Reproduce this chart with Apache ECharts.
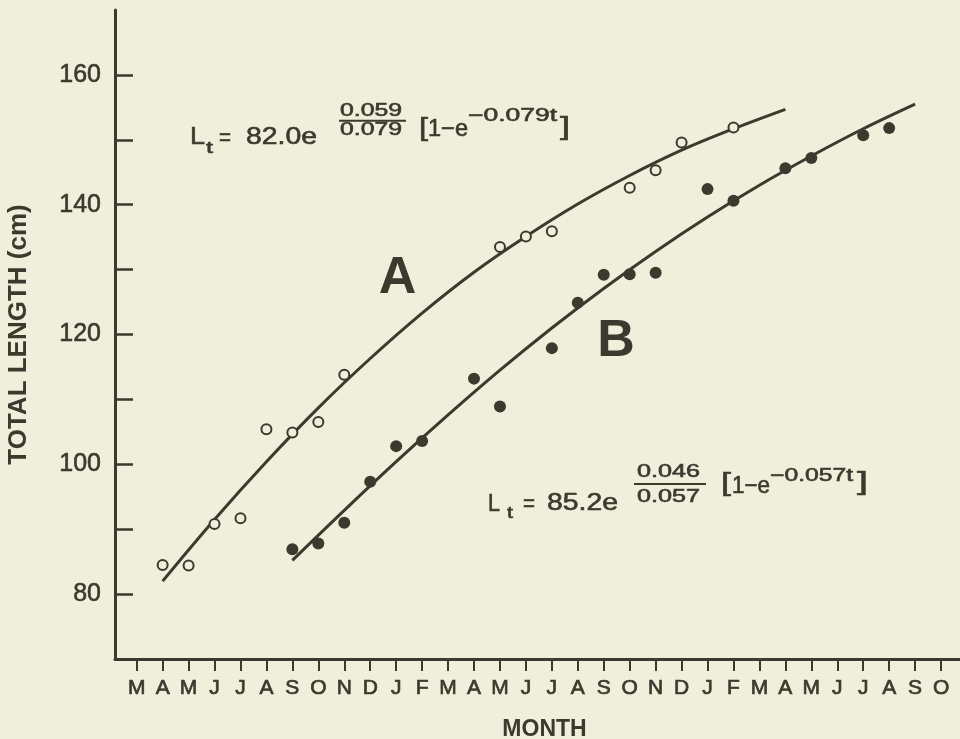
<!DOCTYPE html>
<html>
<head>
<meta charset="utf-8">
<script src="https://cdn.jsdelivr.net/npm/echarts@6/dist/echarts.min.js"></script>
<style>
  html, body { margin: 0; padding: 0; background: #efefdb; }
  #chart { width: 960px; height: 739px; }
</style>
</head>
<body>
<div id="chart"></div>
<script>
// ---- data ----
const monthLetters = ['M','A','M','J','J','A','S','O','N','D','J','F','M','A','M','J','J','A','S','O','N','D','J','F','M','A','M','J','J','A','S','O'];
const monthTicks = monthLetters.map((_, i) => i);
const yTicks = [80, 90, 100, 110, 120, 130, 140, 150, 160];
const yTickLabels = [80, 100, 120, 140, 160];

// Group A (open circles)
const openMonths = [1, 2, 3, 4, 5, 6, 7, 8, 14, 15, 16, 19, 20, 21, 23];
const openLength = [84.5, 84.4, 90.8, 91.7, 105.4, 104.9, 106.5, 113.8, 133.5, 135.1, 135.9, 142.6, 145.3, 149.6, 151.9];

// Group B (filled circles)
const filledMonths = [6, 7, 8, 9, 10, 11, 13, 14, 16, 17, 18, 19, 20, 22, 23, 25, 26, 28, 29];
const filledLength = [86.9, 87.8, 91.0, 97.3, 102.8, 103.6, 113.2, 108.9, 117.9, 124.9, 129.2, 129.3, 129.5, 142.4, 140.6, 145.6, 147.2, 150.7, 151.8];

// Fitted curves
const curveAMonths = [1, 3, 5, 7, 9, 11, 13, 15, 17, 19, 21, 23, 25];
const curveALength = [82.0, 91.5, 100.4, 108.7, 116.3, 123.3, 129.6, 135.1, 140.1, 144.5, 148.4, 151.7, 154.7];
const curveBMonths = [6, 8, 10, 12, 14, 16, 18, 20, 22, 24, 26, 28, 30];
const curveBLength = [85.2, 92.9, 100.4, 107.6, 114.5, 121.0, 127.1, 132.8, 138.1, 143.0, 147.5, 151.7, 155.5];

// ---- styling ----
const INK = '#3a3a2f';
const BG = '#efefdb';
const FONT = '"Liberation Sans", Arial, Helvetica, sans-serif';

const zip = (xs, ys) => xs.map((x, i) => [x, ys[i]]);

const mctx = document.createElement('canvas').getContext('2d');
function piece(str, x0, x1, yc, size, weight) {
  const font = (weight || 'normal') + ' ' + size + 'px ' + FONT;
  mctx.font = font;
  const w = mctx.measureText(str).width || 1;
  let sx = (x1 - x0) / w;
  sx = Math.max(0.8, Math.min(1.6, sx));
  return {
    type: 'text', x: x0, y: yc, scaleX: sx, z: 100,
    style: { text: str, font: font, fill: INK, stroke: INK, lineWidth: 0.6, align: 'left', verticalAlign: 'middle' }
  };
}
function bar(x0, x1, y) {
  return { type: 'line', z: 100, shape: { x1: x0, y1: y, x2: x1, y2: y }, style: { stroke: INK, lineWidth: 2 } };
}
function bigLabel(str, cx, cy) {
  return {
    type: 'text', x: cx, y: cy, z: 100,
    style: { text: str, font: 'bold 52px ' + FONT, fill: INK, align: 'center', verticalAlign: 'middle' }
  };
}

const graphics = [
  // Equation A
  piece('L', 190, 205, 137.5, 24),
  piece('t', 206, 213, 148, 17),
  piece('=', 219, 231, 138, 24),
  piece('82.0e', 246, 317, 137.5, 24),
  piece('0.059', 340, 402, 111, 18),
  bar(339, 406, 120.7),
  piece('0.079', 340, 402, 130, 18),
  piece('[', 419, 428, 128.5, 26),
  piece('1\u2212e', 428, 468, 130, 23),
  piece('\u22120.079t', 468, 557, 116, 18),
  piece(']', 560, 570, 127.5, 26),
  // Equation B
  piece('L', 488, 500, 504, 24),
  piece('t', 507, 513, 513, 17),
  piece('=', 523, 535, 504, 24),
  piece('85.2e', 547, 618, 503.5, 24),
  piece('0.046', 637, 700, 472.5, 18),
  bar(634, 706, 484),
  piece('0.057', 637, 700, 497, 18),
  piece('[', 721, 731, 484, 26),
  piece('1\u2212e', 732, 770, 487, 23),
  piece('\u22120.057t', 770, 853, 476, 18),
  piece(']', 857, 868, 483, 26),
  // Curve labels
  bigLabel('A', 397.5, 279),
  bigLabel('B', 616, 341.5)
];

const chart = echarts.init(document.getElementById('chart'), null, { renderer: 'canvas' });
chart.setOption({
  backgroundColor: BG,
  animation: false,
  grid: { left: 115, right: 0, top: 10, bottom: 80, containLabel: false, outerBoundsMode: 'none' },
  xAxis: {
    type: 'value',
    min: -0.836,
    max: 31.73,
    name: 'MONTH',
    nameLocation: 'middle',
    nameGap: 59,
    nameTextStyle: { color: INK, fontFamily: FONT, fontWeight: 'bold', fontSize: 23, padding: [0, 0, 0, 14] },
    axisLine: { show: true, onZero: false, lineStyle: { color: INK, width: 3 } },
    axisTick: { show: true, inside: false, length: 12, customValues: monthTicks, lineStyle: { color: INK, width: 2 } },
    axisLabel: {
      show: true, customValues: monthTicks, margin: 19,
      color: INK, fontFamily: FONT, fontSize: 21, textBorderColor: INK, textBorderWidth: 0.7,
      formatter: v => monthLetters[Math.round(v)] || ''
    },
    splitLine: { show: false }
  },
  yAxis: {
    type: 'value',
    min: 70,
    max: 170,
    name: 'TOTAL LENGTH (cm)',
    nameLocation: 'middle',
    nameGap: 83,
    nameTextStyle: { color: INK, fontFamily: FONT, fontWeight: 'bold', fontSize: 26 },
    axisLine: { show: true, onZero: false, lineStyle: { color: INK, width: 3 } },
    axisTick: { show: true, inside: true, length: 18, customValues: yTicks, lineStyle: { color: INK, width: 2.5 } },
    axisLabel: {
      show: true, customValues: yTickLabels, margin: 14,
      color: INK, fontFamily: FONT, fontSize: 25, textBorderColor: INK, textBorderWidth: 0.6
    },
    splitLine: { show: false }
  },
  series: [
    {
      name: 'Curve A', type: 'line', data: zip(curveAMonths, curveALength),
      smooth: 0.35, showSymbol: false, z: 2,
      lineStyle: { color: INK, width: 3 }
    },
    {
      name: 'Curve B', type: 'line', data: zip(curveBMonths, curveBLength),
      smooth: 0.35, showSymbol: false, z: 2,
      lineStyle: { color: INK, width: 3 }
    },
    {
      name: 'A', type: 'scatter', data: zip(openMonths, openLength),
      symbol: 'circle', symbolSize: 10, z: 5,
      itemStyle: { color: BG, borderColor: INK, borderWidth: 2, opacity: 1 }
    },
    {
      name: 'B', type: 'scatter', data: zip(filledMonths, filledLength),
      symbol: 'circle', symbolSize: 12, z: 5,
      itemStyle: { color: INK, opacity: 1 }
    }
  ],
  graphic: graphics
});
</script>
</body>
</html>
